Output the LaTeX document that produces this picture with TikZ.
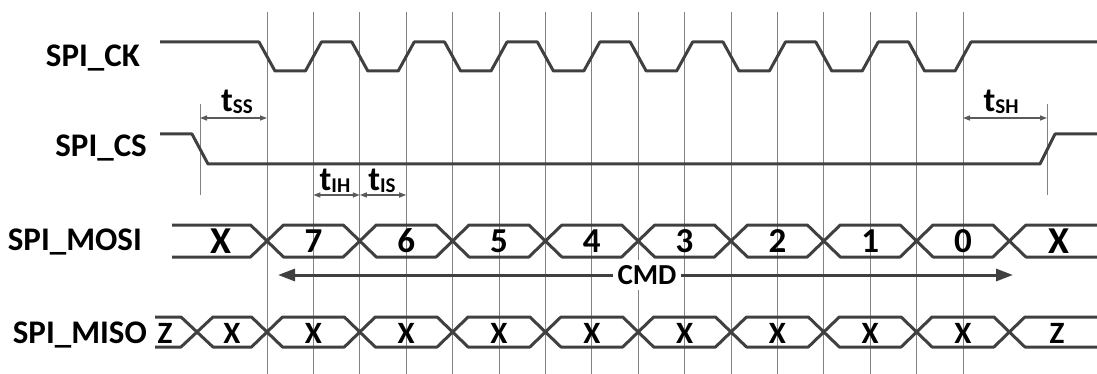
\documentclass[tikz,border=0pt]{standalone}
\usepackage{fontspec}
\setmainfont{Carlito}
\usetikzlibrary{arrows.meta}

\definecolor{wavegray}{RGB}{64,64,64}
\definecolor{gridgray}{RGB}{130,130,130}
\definecolor{arrowgray}{RGB}{90,90,90}

\newcommand{\tlabel}[1]{{\fontsize{34}{34}\selectfont t}\raisebox{-2pt}{\fontsize{21}{21}\selectfont #1}}

\tikzset{
    wave/.style = {line width = 3pt, draw = wavegray, line join = round},
    gridline/.style = {line width = 0.9pt, draw = gridgray},
    timing/.style = {line width = 1.4pt, draw = arrowgray,
                     {Triangle[length = 7pt, width = 5pt]}-{Triangle[length = 7pt, width = 5pt]}},
    cmdarrow/.style = {line width = 3pt, draw = wavegray,
                       {Triangle[length = 17pt, width = 12pt]}-{Triangle[length = 17pt, width = 12pt]}},
    signame/.style = {font = \fontsize{33}{36}\selectfont\bfseries, anchor = base east, inner sep = 0pt},
    mosibit/.style = {font = \fontsize{35}{36}\selectfont\bfseries, inner sep = 0pt},
    misobit/.style = {font = \fontsize{31}{36}\selectfont\bfseries, inner sep = 0pt},
    tname/.style = {font = \bfseries, inner sep = 0pt}
}

\begin{document}
\begin{tikzpicture}[x = 1pt, y = -1pt]
    \useasboundingbox (0, 0) rectangle (1097, 374);

    % grid lines at every clock edge
    \foreach \k in {0,...,15}
        \draw [gridline] ({267 + 46.4*\k}, 12) coordinate (l\k) -- ({267 + 46.4*\k}, 374);
    \draw [gridline] (200, 104) coordinate (csL) -- (200, 195); % CS falls
    \draw [gridline] (1047, 104) coordinate (csR) -- (1047, 195); % CS rises

    % signal names
    \node [signame] (ck)   at (140, 67)  {SPI\_CK};
    \node [signame] (cs)   at (147, 157) {SPI\_CS};
    \node [signame] (mosi) at (142, 250) {SPI\_MOSI};
    \node [signame] (miso) at (147, 343) {SPI\_MISO};

    % SPI_CK
    \draw [wave] (160, 42)
        \foreach \k in {0,...,7} {
            -- ({259 + 92.8*\k}, 42) -- ({275 + 92.8*\k}, 71)
            -- ({305.4 + 92.8*\k}, 71) -- ({321.4 + 92.8*\k}, 42)
        } -- (1097, 42);

    % SPI_CS
    \draw [wave] (160, 134) -- (192, 134) -- (208, 164)
                 -- (1040, 164) -- (1055, 134) -- (1097, 134);

    % SPI_MOSI
    \foreach \y in {225, 257}
        \draw [wave] (172, \y)
            \foreach \j in {0,...,8} {
                -- ({250.5 + 92.8*\j}, \y) -- ({267 + 92.8*\j}, 241) -- ({283.5 + 92.8*\j}, \y)
            } -- (1097, \y);
    \node [mosibit, font = \fontsize{38}{40}\selectfont\bfseries] (mosiA) at (221, 241) {X};
    \foreach \b [count = \i from 0] in {7,6,...,0}
        \node [mosibit] (mosi\b) at ({313.4 + 92.8*\i}, 241) {\b};
    \node [mosibit, font = \fontsize{38}{40}\selectfont\bfseries] (mosiB) at (1059, 241) {X};

    % SPI_MISO
    \foreach \y in {317, 347}
        \draw [wave] (155, \y) -- (181, \y) -- (197, 332) -- (213, \y)
            \foreach \j in {0,...,8} {
                -- ({251.5 + 92.8*\j}, \y) -- ({267 + 92.8*\j}, 332) -- ({282.5 + 92.8*\j}, \y)
            } -- (1097, \y);
    \node [misobit] (misoA) at (165, 333) {Z};
    \node [misobit] (miso0) at (232, 333) {X};
    \foreach \i in {1,...,8}
        \node [misobit] (miso\i) at ({313.4 + 92.8*(\i - 1)}, 333) {X};
    \node [misobit] (misoB) at (1057, 333) {Z};

    % timing arrows
    \coordinate (ss) at (200, 118);
    \draw [timing] (ss) -- (ss -| l0); % t_SS
    \node [tname] (tss) at (237, 102) {\tlabel{SS}};
    \coordinate (sh) at (1047, 118);
    \draw [timing] (sh -| l15) -- (sh); % t_SH
    \node [tname] (tsh) at (1001, 102) {\tlabel{SH}};
    \coordinate (ih) at (314, 195);
    \draw [timing] (ih -| l1) -- (ih -| l2); % t_IH
    \draw [timing] (ih -| l2) -- (ih -| l3); % t_IS
    \node [tname] (tih) at (335, 181) {\tlabel{IH}};
    \node [tname] (tis) at (382, 181) {\tlabel{IS}};

    % command span
    \coordinate (cmdL) at (278, 275);
    \coordinate (cmdR) at (1013, 275);
    \draw [cmdarrow] (cmdL) -- (cmdR);
    \node [fill = white, inner sep = 5pt, font = \fontsize{29}{30}\selectfont\bfseries]
          (cmd) at (647, 275) {CMD};
\end{tikzpicture}
\end{document}
